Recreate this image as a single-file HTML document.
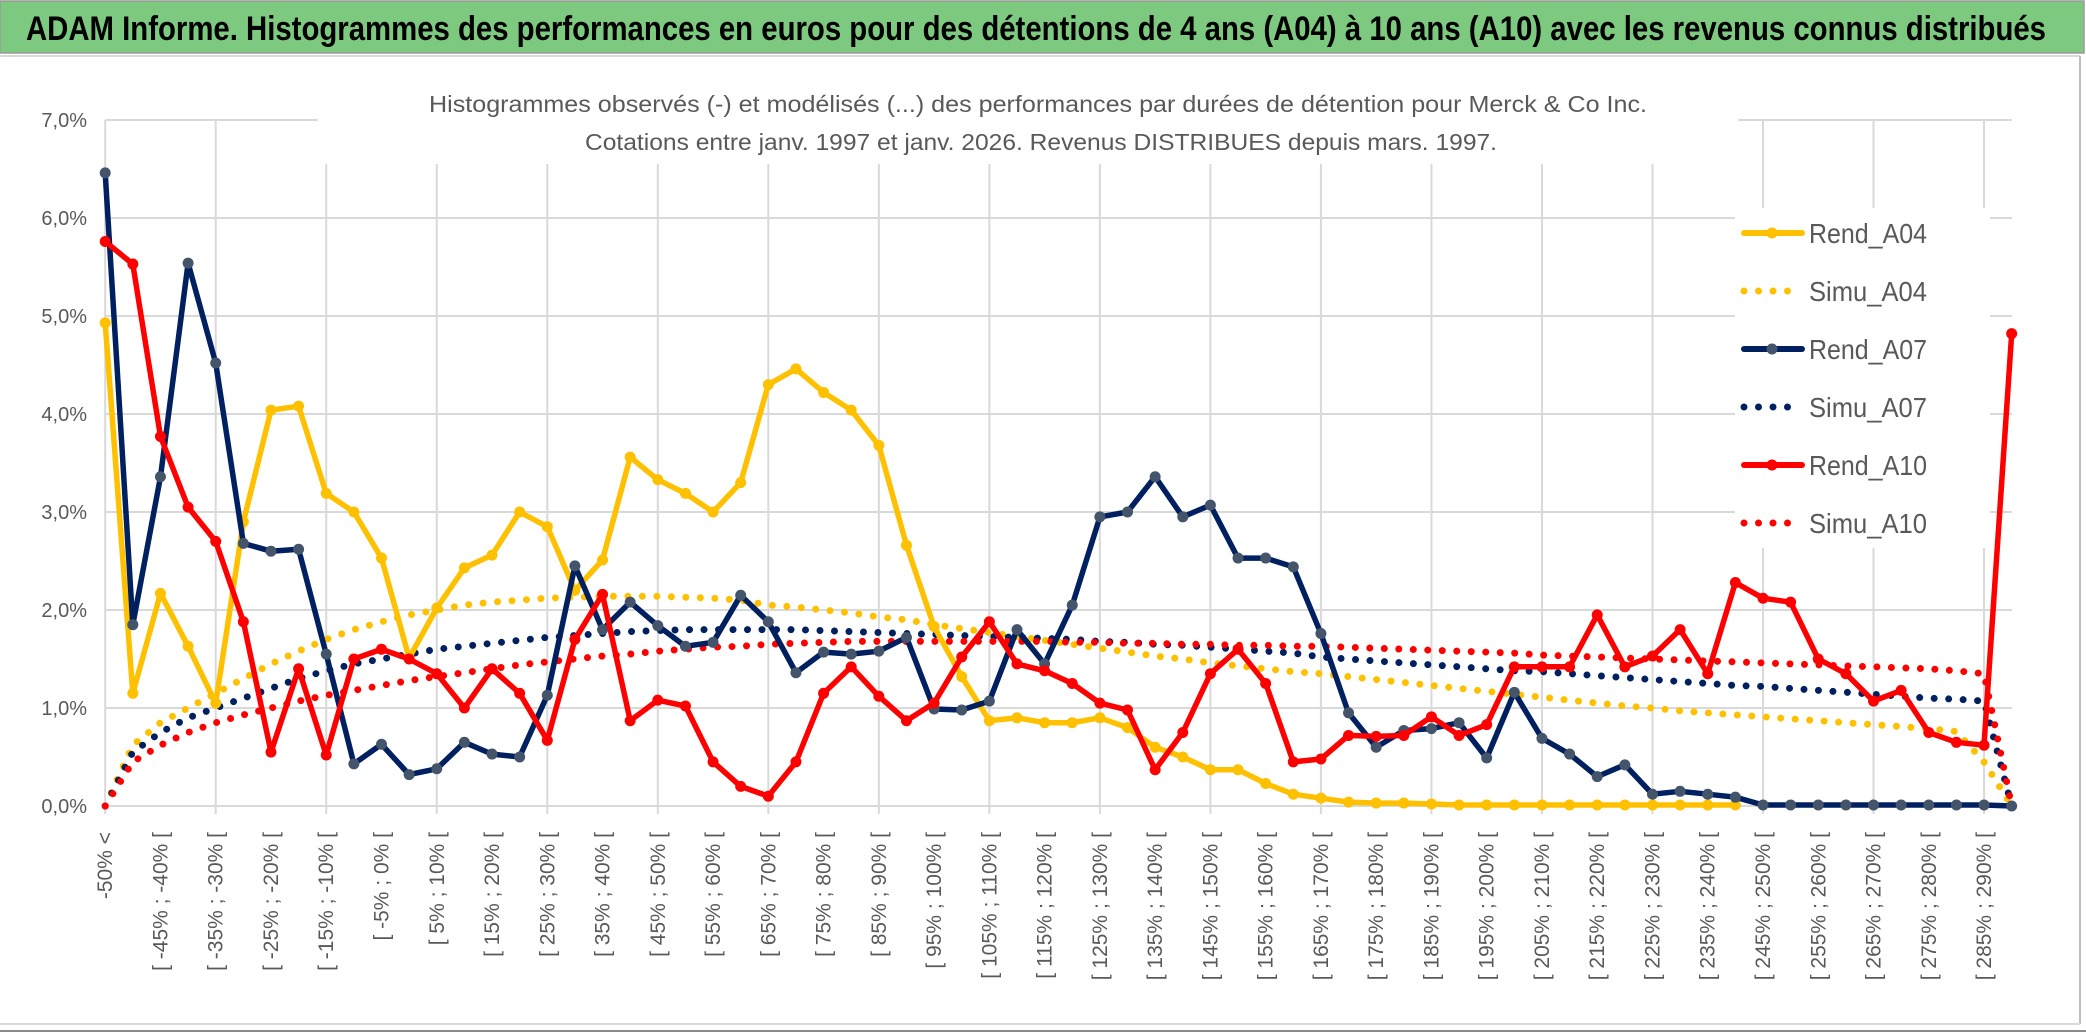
<!DOCTYPE html>
<html><head><meta charset="utf-8">
<style>
html,body{margin:0;padding:0;background:#fff;}
svg{display:block;font-family:"Liberation Sans",sans-serif;}
</style></head>
<body>
<svg id="chart" width="2086" height="1033" viewBox="0 0 2086 1033" xmlns="http://www.w3.org/2000/svg">
  <rect x="0" y="0" width="2086" height="1033" fill="#fff"/>
  <rect x="0" y="1" width="2084" height="52" fill="#7dc97f" stroke="#9a9a9a" stroke-width="1.5"/>
  <text x="26" y="40" font-size="34" font-weight="bold" fill="#000" textLength="2020" lengthAdjust="spacingAndGlyphs">ADAM Informe. Histogrammes des performances en euros pour des détentions de 4 ans (A04) à 10 ans (A10) avec les revenus connus distribués</text>
  <line x1="0" y1="56" x2="2080" y2="56" stroke="#d9d9d9" stroke-width="2"/>
  <line x1="2080" y1="56" x2="2080" y2="1024" stroke="#bfbfbf" stroke-width="2"/>
  <line x1="0" y1="1024" x2="2080" y2="1024" stroke="#d9d9d9" stroke-width="2"/>
  <line x1="0" y1="1031" x2="2086" y2="1031" stroke="#8a8a8a" stroke-width="2"/>
  <g id="grid"></g>
  <g id="yaxis"></g>
  <g id="xaxis"></g>
  <rect x="318" y="80" width="1420" height="84" fill="#fff"/>
  <text x="1038" y="112" font-size="23" fill="#595959" text-anchor="middle" textLength="1218" lengthAdjust="spacingAndGlyphs">Histogrammes observés (-) et modélisés (...) des performances par durées de détention pour Merck &amp; Co Inc.</text>
  <text x="1041" y="150" font-size="23" fill="#595959" text-anchor="middle" textLength="912" lengthAdjust="spacingAndGlyphs">Cotations entre janv. 1997 et janv. 2026. Revenus DISTRIBUES depuis mars. 1997.</text>
  <g id="series"></g>
  <g id="legend"></g>
</svg>
<script>
const categories = (function(){
  const c = ["-50% <"];
  for (let v = -50; v < 295; v += 5) c.push("[ " + v + "% ; " + (v + 5) + "% [");
  return c;
})();
const yTicks = [0,1,2,3,4,5,6,7];
const yTickLabels = ["0,0%","1,0%","2,0%","3,0%","4,0%","5,0%","6,0%","7,0%"];
const rendA04 = [4.93,1.15,2.17,1.63,1.05,2.9,4.04,4.08,3.19,3.0,2.53,1.51,2.02,2.43,2.56,3.0,2.85,2.2,2.51,3.56,3.33,3.19,3.0,3.3,4.3,4.46,4.22,4.04,3.68,2.66,1.83,1.32,0.87,0.9,0.85,0.85,0.9,0.8,0.6,0.5,0.37,0.37,0.23,0.12,0.08,0.04,0.03,0.03,0.02,0.01,0.01,0.01,0.01,0.01,0.01,0.01,0.01,0.01,0.01,0.01,null,null,null,null,null,null,null,null,null,null];
const simuA04 = [0,0.62,0.85,1.0,1.15,1.3,1.45,1.58,1.7,1.8,1.88,1.95,2.0,2.05,2.08,2.1,2.12,2.13,2.14,2.14,2.14,2.13,2.12,2.1,2.05,2.03,2.0,1.97,1.93,1.9,1.85,1.81,1.77,1.73,1.69,1.65,1.61,1.57,1.53,1.5,1.46,1.43,1.4,1.37,1.35,1.32,1.29,1.26,1.23,1.2,1.17,1.14,1.11,1.08,1.05,1.02,1.0,0.97,0.95,0.93,0.91,0.89,0.87,0.85,0.83,0.81,0.79,0.76,0.45,0.0];
const rendA07 = [6.46,1.85,3.36,5.54,4.52,2.68,2.6,2.62,1.55,0.43,0.63,0.32,0.38,0.65,0.53,0.5,1.13,2.45,1.8,2.08,1.84,1.63,1.67,2.15,1.88,1.36,1.57,1.55,1.58,1.72,0.99,0.98,1.07,1.8,1.45,2.05,2.95,3.0,3.36,2.95,3.07,2.53,2.53,2.44,1.76,0.95,0.6,0.77,0.79,0.85,0.49,1.16,0.69,0.53,0.3,0.42,0.12,0.15,0.12,0.09,0.01,0.01,0.01,0.01,0.01,0.01,0.01,0.01,0.01,0.0];
const simuA07 = [0,0.55,0.75,0.9,1.0,1.1,1.2,1.3,1.38,1.45,1.5,1.55,1.6,1.63,1.66,1.69,1.72,1.74,1.76,1.78,1.79,1.8,1.8,1.8,1.8,1.8,1.79,1.78,1.77,1.76,1.75,1.74,1.73,1.72,1.71,1.7,1.68,1.67,1.65,1.64,1.62,1.6,1.58,1.56,1.52,1.5,1.48,1.46,1.44,1.42,1.4,1.38,1.37,1.35,1.33,1.31,1.29,1.27,1.25,1.23,1.22,1.2,1.18,1.16,1.14,1.12,1.1,1.09,1.07,0.0];
const rendA10 = [5.76,5.53,3.77,3.05,2.7,1.88,0.55,1.4,0.52,1.5,1.6,1.5,1.35,1.0,1.4,1.15,0.67,1.7,2.16,0.87,1.08,1.02,0.45,0.2,0.1,0.45,1.15,1.42,1.12,0.87,1.05,1.52,1.88,1.45,1.38,1.25,1.05,0.98,0.37,0.75,1.35,1.6,1.25,0.45,0.48,0.72,0.71,0.72,0.91,0.72,0.83,1.42,1.42,1.42,1.95,1.42,1.53,1.8,1.35,2.28,2.12,2.08,1.5,1.35,1.07,1.18,0.75,0.65,0.62,4.82];
const simuA10 = [0,0.45,0.62,0.75,0.85,0.93,1.0,1.07,1.13,1.18,1.23,1.28,1.32,1.36,1.4,1.44,1.47,1.5,1.53,1.55,1.58,1.6,1.62,1.63,1.65,1.66,1.67,1.68,1.68,1.68,1.68,1.68,1.68,1.68,1.68,1.67,1.67,1.66,1.66,1.65,1.65,1.64,1.64,1.63,1.63,1.62,1.61,1.6,1.59,1.58,1.57,1.56,1.54,1.53,1.52,1.51,1.5,1.49,1.48,1.47,1.46,1.45,1.44,1.43,1.42,1.41,1.4,1.38,1.35,0.0];
const seriesNames = ["Rend_A04","Simu_A04","Rend_A07","Simu_A07","Rend_A10","Simu_A10"];

const NS = "http://www.w3.org/2000/svg";
const X0 = 105.2, DX = 27.63, Y0 = 806, DY = 98, XR = 2012;
function xs(i){ return X0 + i * DX; }
function ys(v){ return Y0 - v * DY; }
function mk(tag, attrs, parent){
  const e = document.createElementNS(NS, tag);
  for (const k in attrs) e.setAttribute(k, attrs[k]);
  parent.appendChild(e);
  return e;
}
const grid = document.getElementById('grid');
yTicks.forEach(function(t){
  const l = mk('line', {x1: X0, x2: XR, y1: ys(t), y2: ys(t), stroke: '#d9d9d9', 'stroke-width': 2}, grid);
  
  
});
for (let i = 0; i < categories.length; i += 4) {
  const l = mk('line', {x1: xs(i), x2: xs(i), y1: ys(7), y2: Y0 + 8, stroke: '#d9d9d9', 'stroke-width': 2}, grid);
  
  
}
const yaxis = document.getElementById('yaxis');
yTicks.forEach(function(t, k){
  const tx = mk('text', {x: 87, y: ys(t) + 7, 'font-size': 20, fill: '#595959', 'text-anchor': 'end'}, yaxis);
  tx.textContent = yTickLabels[k];
  
  
});
const xaxis = document.getElementById('xaxis');
for (let i = 0; i < categories.length; i += 2) {
  const x = xs(i) + 7, y = 832;
  const tx = mk('text', {x: x, y: y, 'font-size': 21, fill: '#595959', 'text-anchor': 'end', transform: 'rotate(-90 ' + x + ' ' + y + ')'}, xaxis);
  tx.textContent = categories[i];
  
  
}
const layer = document.getElementById('series');
function pathFor(arr){
  let d = '', pen = false;
  arr.forEach(function(v, i){
    if (v === null) { pen = false; return; }
    d += (pen ? 'L' : 'M') + xs(i).toFixed(1) + ' ' + ys(v).toFixed(1);
    pen = true;
  });
  return d;
}
function dotted(arr, color, name){
  const p = mk('path', {d: pathFor(arr), fill: 'none', stroke: color, 'stroke-width': 7, 'stroke-linecap': 'round', 'stroke-dasharray': '0 14.5'}, layer);
  
  
}
function solid(arr, color, mcolor, name){
  const p = mk('path', {d: pathFor(arr), fill: 'none', stroke: color, 'stroke-width': 5.5, 'stroke-linejoin': 'round'}, layer);
  
  
  arr.forEach(function(v, i){
    if (v === null) return;
    const c = mk('circle', {cx: xs(i), cy: ys(v), r: 5.5, fill: mcolor}, layer);
    
    
  });
}
dotted(simuA04, '#FFC000', 'simu-a04-line');
dotted(simuA07, '#002060', 'simu-a07-line');
dotted(simuA10, '#FF0000', 'simu-a10-line');
solid(rendA04, '#FFC000', '#FFC000', 'rend-a04-line');
solid(rendA07, '#002060', '#44546A', 'rend-a07-line');
solid(rendA10, '#FF0000', '#FF0000', 'rend-a10-line');

const legend = document.getElementById('legend');
const lb = mk('rect', {x: 1735, y: 208, width: 255, height: 340, fill: '#fff'}, legend);


const legColors = ['#FFC000','#FFC000','#002060','#002060','#FF0000','#FF0000'];
const legMarker = ['#FFC000',null,'#44546A',null,'#FF0000',null];
seriesNames.forEach(function(n, k){
  const y = 233 + k * 58;
  const g = mk('g', {}, legend);
  
  
  if (k % 2 === 0) {
    mk('line', {x1: 1744, x2: 1802, y1: y, y2: y, stroke: legColors[k], 'stroke-width': 6, 'stroke-linecap': 'round'}, g);
    mk('circle', {cx: 1772, cy: y, r: 5.5, fill: legMarker[k]}, g);
  } else {
    mk('line', {x1: 1744, x2: 1802, y1: y, y2: y, stroke: legColors[k], 'stroke-width': 7, 'stroke-linecap': 'round', 'stroke-dasharray': '0 14.5'}, g);
  }
  const t = mk('text', {x: 1809, y: y + 10, 'font-size': 28, fill: '#595959', textLength: 118, lengthAdjust: 'spacingAndGlyphs'}, g);
  t.textContent = n;
});
</script>
</body></html>
